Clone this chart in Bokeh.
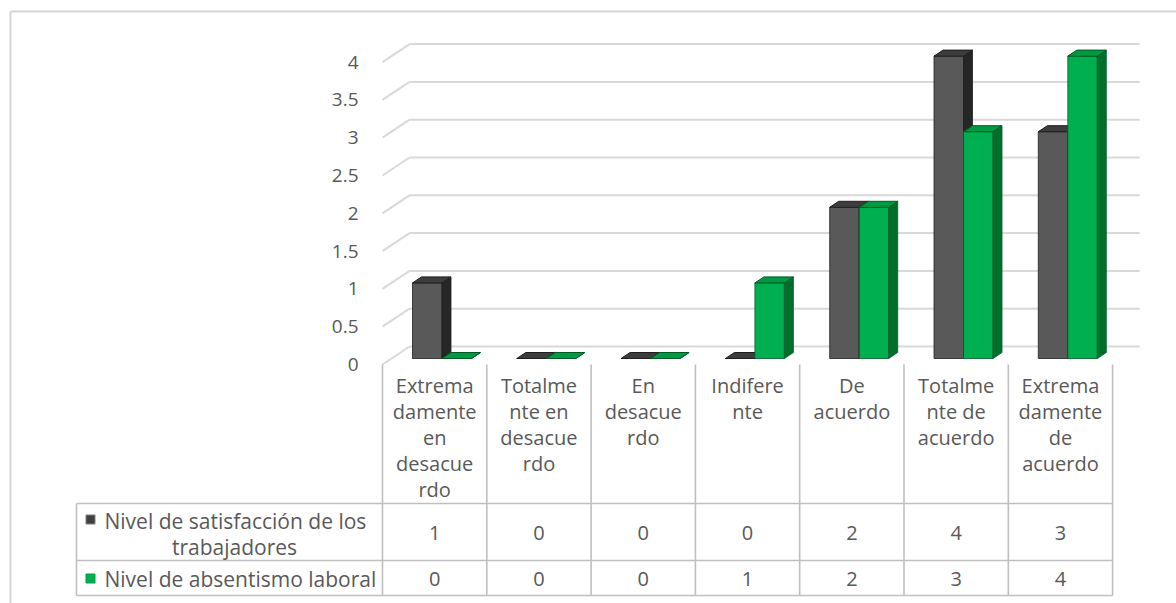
from bokeh.plotting import figure
from bokeh.models import Range1d
from bokeh.core.properties import value
from bokeh.embed import file_html
from bokeh.resources import INLINE

# ---------------- data ----------------
categories = [
    ["Extrema", "damente", "en", "desacue", "rdo"],
    ["Totalme", "nte en", "desacue", "rdo"],
    ["En", "desacue", "rdo"],
    ["Indifere", "nte"],
    ["De", "acuerdo"],
    ["Totalme", "nte de", "acuerdo"],
    ["Extrema", "damente", "de", "acuerdo"],
]
series_names = [["Nivel de satisfacción de los", "trabajadores"],
                ["Nivel de absentismo laboral"]]
satisfaccion = [1, 0, 0, 0, 2, 4, 3]
absentismo = [0, 0, 0, 1, 2, 3, 4]
y_ticks = [0, 0.5, 1, 1.5, 2, 2.5, 3, 3.5, 4]
y_tick_labels = ["0", "0.5", "1", "1.5", "2", "2.5", "3", "3.5", "4"]

# ---------------- layout (pixels) ----------------
W, H = 1176, 603
PX_X = 104.3          # pixels per category
PX_Y = 75.6           # pixels per value unit
OX, OY = 382, 364     # front/left/zero corner, from canvas top-left


def px(d):
    return d / PX_X


def py(d):
    return d / PX_Y


FONT = value("Open Sans")
TXT = "#595959"
GRID = "#d9d9d9"
TABLE = "#bfbfbf"

p = figure(width=W, height=H, output_backend="svg", toolbar_location=None,
           x_range=Range1d(-px(OX), px(W - OX)),
           y_range=Range1d(py(OY - H), py(OY)),
           x_axis_location=None, y_axis_location=None,
           min_border=0, background_fill_color="white",
           border_fill_color="white", outline_line_color=None)
p.grid.visible = False

n = len(categories)

# outer chart frame
fx, fy = -px(OX - 10), py(OY - 11)
p.segment(x0=[fx, fx], y0=[fy, fy], x1=[fx, px(W - OX) + 1], y1=[py(OY - H) - 1, fy],
          line_color="#d4d4d4", line_width=2)

# 3D walls: back wall gridlines and left wall diagonals
DX, DY = px(27), py(18)
p.segment(x0=[DX] * len(y_ticks), y0=[v + DY for v in y_ticks],
          x1=[n + DX] * len(y_ticks), y1=[v + DY for v in y_ticks],
          line_color=GRID, line_width=2)
p.segment(x0=[0] * len(y_ticks), y0=y_ticks,
          x1=[DX] * len(y_ticks), y1=[v + DY for v in y_ticks],
          line_color=GRID, line_width=2)

# y tick labels
p.text(x=[-px(24)] * len(y_ticks), y=y_ticks, text=y_tick_labels,
       text_font=FONT, text_font_size=value("19px"), text_color=TXT,
       text_align="right", text_baseline="middle")

# 3D bars (front face sits one third into the floor depth)
BASE = py(6)
BW = px(29.5)
BL = px(30)
BDX, BDY = px(9), py(6)

styles = [
    dict(front="#595959", side="#262626", top="#3d3d3d", edge="#1e1e1e"),
    dict(front="#00b050", side="#006f2c", top="#009a45", edge="#005a24"),
]
for k, vals in enumerate([satisfaccion, absentismo]):
    st = styles[k]
    left = [i + BL + k * BW for i in range(n)]
    right = [l + BW for l in left]
    top = [BASE + v for v in vals]
    p.quad(left=left, right=right, bottom=[BASE] * n, top=top,
           fill_color=st["front"], line_color=st["edge"], line_width=0.8)
    side_xs = [[r, r + BDX, r + BDX, r] for r in right]
    side_ys = [[BASE, BASE + BDY, t + BDY, t] for t in top]
    p.patches(xs=side_xs, ys=side_ys, fill_color=st["side"],
              line_color=st["edge"], line_width=0.8)
    top_xs = [[l, r, r + BDX, l + BDX] for l, r in zip(left, right)]
    top_ys = [[t, t, t + BDY, t + BDY] for t in top]
    p.patches(xs=top_xs, ys=top_ys, fill_color=st["top"],
              line_color=st["edge"], line_width=1.0)

# ---------------- data table ----------------
label_left = -px(OX - 76)
row_top = -py(503 - OY)
row_mid = -py(560 - OY)
row_bot = -py(595 - OY)

hy = [row_top, row_mid, row_bot]
p.segment(x0=[label_left] * 3, y0=hy, x1=[n] * 3, y1=hy, line_color=TABLE, line_width=1.6)
vx = [label_left] + list(range(n + 1))
vy0 = [row_top] + [0] * (n + 1)
p.segment(x0=vx, y0=vy0, x1=vx, y1=[row_bot] * len(vx),
          line_color=TABLE, line_width=1.6)

# category header text
LINE = py(26)
first = -py(21)
hx, hyy, ht = [], [], []
for i, lines in enumerate(categories):
    for j, t in enumerate(lines):
        hx.append(i + 0.5)
        hyy.append(first - j * LINE)
        ht.append(t)
p.text(x=hx, y=hyy, text=ht, text_font=FONT, text_font_size=value("20px"),
       text_color=TXT, text_align="center", text_baseline="middle")

# values
row1_y = -py(532 - OY)
row2_y = -py(578 - OY)
p.text(x=[i + 0.5 for i in range(n)], y=[row1_y] * n,
       text=[str(v) for v in satisfaccion], text_font=FONT,
       text_font_size=value("20px"), text_color=TXT,
       text_align="center", text_baseline="middle")
p.text(x=[i + 0.5 for i in range(n)], y=[row2_y] * n,
       text=[str(v) for v in absentismo], text_font=FONT,
       text_font_size=value("20px"), text_color=TXT,
       text_align="center", text_baseline="middle")

# series labels with legend keys
r1a = -py(520 - OY)
r1b = -py(546 - OY)
p.scatter(x=[-px(OX - 90)] * 2, y=[r1a + py(1), row2_y], marker="square", size=9,
          fill_color=["#404040", "#00b050"], line_color=["#7f7f7f", "#00a04a"])
p.text(x=[-px(OX - 104)] * 2, y=[r1a, row2_y],
       text=[series_names[0][0], series_names[1][0]], text_font=FONT,
       text_font_size=value("21px"), text_color=TXT,
       text_align="left", text_baseline="middle")
p.text(x=[-px(OX - 234)], y=[r1b], text=[series_names[0][1]], text_font=FONT,
       text_font_size=value("21px"), text_color=TXT,
       text_align="center", text_baseline="middle")

open("out.html", "w").write(file_html(p, INLINE))
